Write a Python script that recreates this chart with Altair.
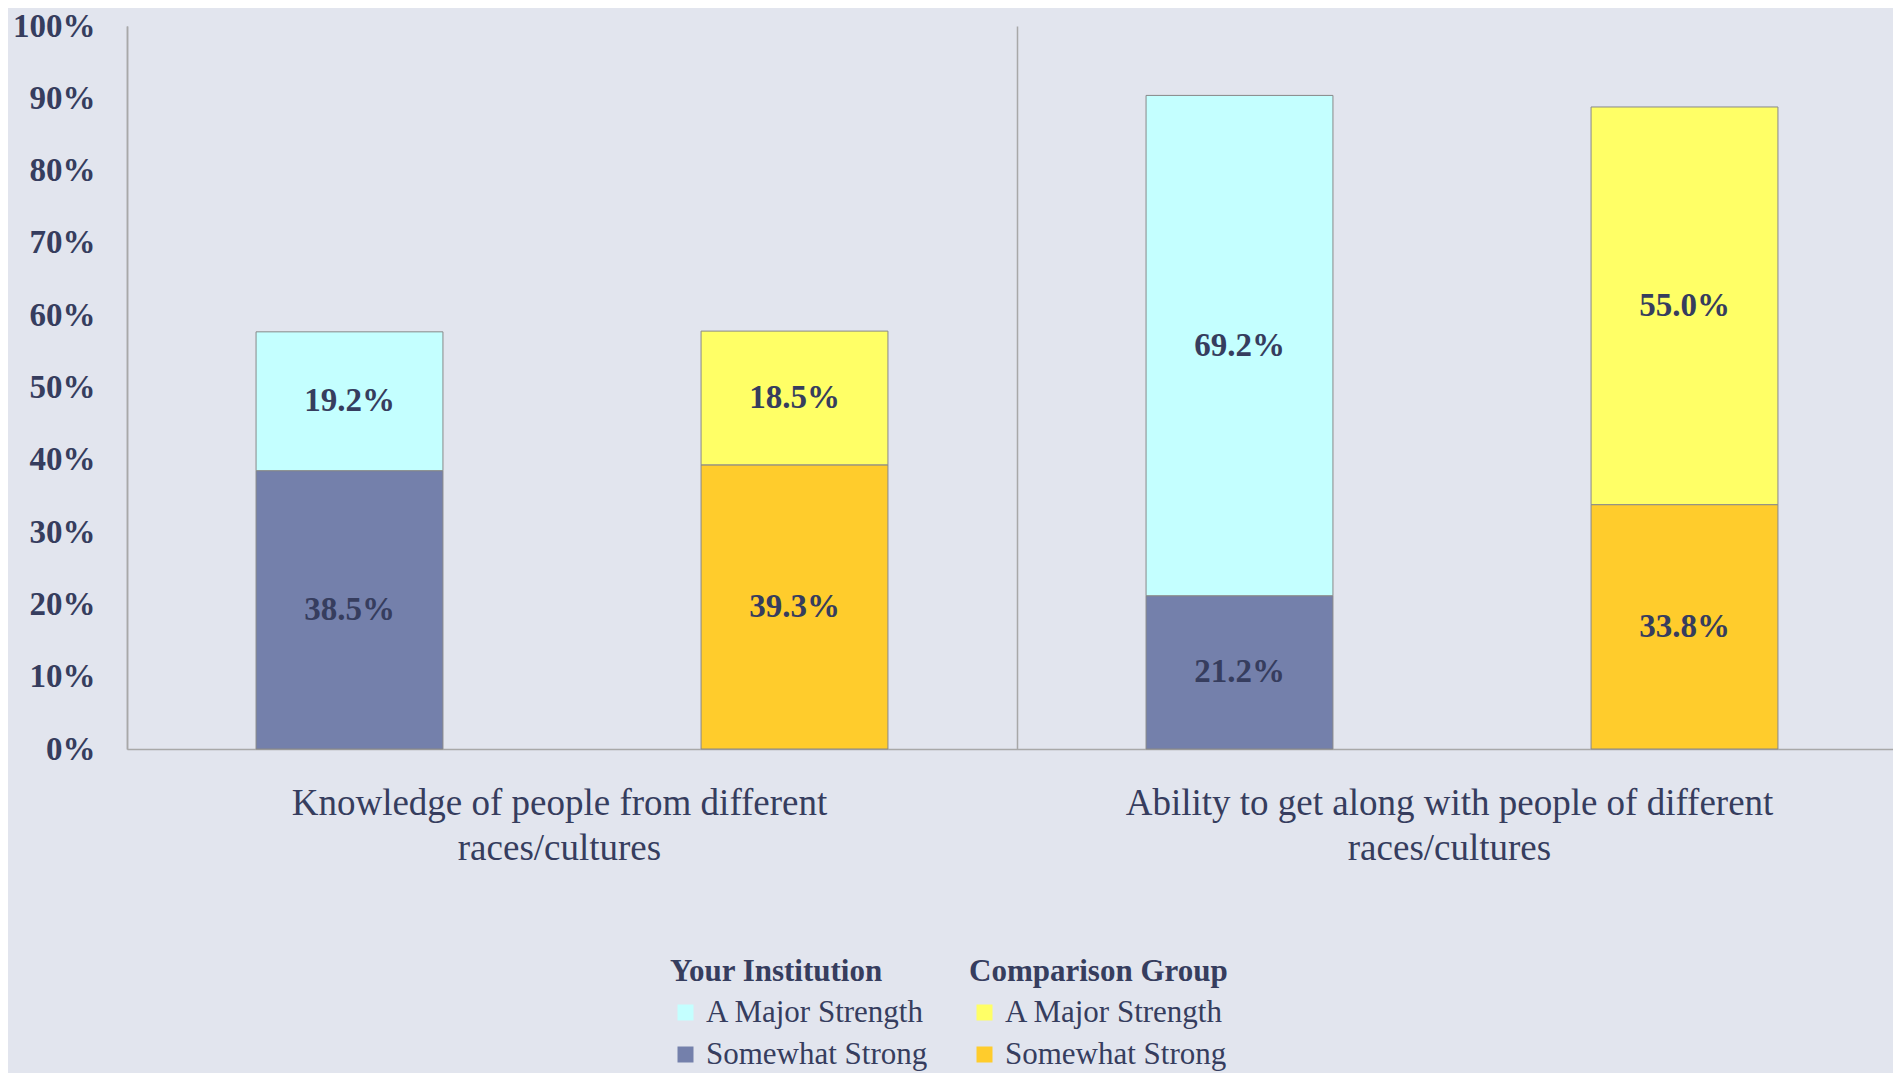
import altair as alt
import pandas as pd

categories = [
    "Knowledge of people from different|races/cultures",
    "Ability to get along with people of different|races/cultures",
]
groups = ["Your Institution", "Comparison Group"]
levels = ["Somewhat Strong", "A Major Strength"]

inst_somewhat = [38.5, 21.2]
inst_major = [19.2, 69.2]
comp_somewhat = [39.3, 33.8]
comp_major = [18.5, 55.0]

rows = []
for i, cat in enumerate(categories):
    rows.append(dict(category=cat, group=groups[0], level=levels[0], order=0, value=inst_somewhat[i]))
    rows.append(dict(category=cat, group=groups[0], level=levels[1], order=1, value=inst_major[i]))
    rows.append(dict(category=cat, group=groups[1], level=levels[0], order=0, value=comp_somewhat[i]))
    rows.append(dict(category=cat, group=groups[1], level=levels[1], order=1, value=comp_major[i]))
df = pd.DataFrame(rows)

FONT = "Liberation Serif"
TEXT = "#363D5E"
BG = "#E2E5EE"
GRID = "#A8A8A8"

base = alt.Chart(df).transform_stack(
    stack="value", groupby=["category", "group"], sort=[alt.SortField("order")], as_=["v0", "v1"]
).transform_calculate(
    mid="(datum.v0 + datum.v1) / 2",
    lab="format(datum.value, '.1f') + '%'",
)

x_enc = alt.X(
    "category:N",
    sort=categories,
    scale=alt.Scale(paddingInner=0, paddingOuter=0, range=[0, 1780]),
    axis=alt.Axis(
        title=None, labelAngle=0, ticks=False, tickBand="extent", grid=True,
        gridColor=GRID, gridWidth=1.5, domainColor=GRID, domainWidth=1.5,
        labelExpr="split(datum.label, '|')", labelFont=FONT, labelFontSize=37,
        labelFontWeight="normal", labelColor=TEXT, labelLineHeight=45,
        labelPadding=36, labelOffset=-13, labelLimit=0,
    ),
)
xo_enc = alt.XOffset(
    "group:N", sort=groups,
    scale=alt.Scale(domain=groups, paddingInner=0.58, paddingOuter=0.29),
)
y_enc = alt.Y(
    "v0:Q",
    scale=alt.Scale(domain=[0, 100]),
    axis=alt.Axis(
        title=None, values=list(range(0, 101, 10)), labelExpr="datum.value + '%'",
        ticks=False, grid=False, domainColor=GRID, domainWidth=1.5,
        labelFont=FONT, labelFontSize=33, labelFontWeight="bold", labelColor=TEXT,
        labelPadding=32,
    ),
)

leg_common = dict(
    orient="none", direction="vertical", symbolType="square", symbolSize=256,
    symbolStrokeWidth=0, titleFont=FONT, titleFontSize=31, titleFontWeight="bold",
    titleColor=TEXT, labelFont=FONT, labelFontSize=31, labelColor=TEXT,
    rowPadding=10, titlePadding=9, labelOffset=5, labelLimit=0, titleLimit=0,
)

inst = base.transform_filter(alt.datum.group == groups[0]).mark_bar(
    stroke="#888888", strokeWidth=1
).encode(
    x=x_enc, xOffset=xo_enc, y=y_enc, y2="v1:Q",
    color=alt.Color(
        "level:N",
        scale=alt.Scale(domain=["A Major Strength", "Somewhat Strong"], range=["#C4FFFF", "#7480AB"]),
        legend=alt.Legend(title="Your Institution", legendX=543, legendY=931, **leg_common),
    ),
)

comp = base.transform_filter(alt.datum.group == groups[1]).mark_bar(
    stroke="#888888", strokeWidth=1
).encode(
    x=x_enc, xOffset=xo_enc, y=y_enc, y2="v1:Q",
    color=alt.Color(
        "level:N",
        scale=alt.Scale(domain=["A Major Strength", "Somewhat Strong"], range=["#FFFF66", "#FFCC2C"]),
        legend=alt.Legend(title="Comparison Group", legendX=842, legendY=931, **leg_common),
    ),
)

labels = base.mark_text(
    font=FONT, fontSize=33, fontWeight="bold", color=TEXT, baseline="middle", align="center"
).encode(
    x=x_enc, xOffset=xo_enc, y=alt.Y("mid:Q"), text="lab:N",
)

chart = alt.layer(inst, comp, labels).resolve_scale(color="independent").properties(
    width=1766, height=723, background=BG,
    autosize=alt.AutoSizeParams(type="none"),
    padding={"left": 119, "top": 18, "right": 0, "bottom": 324},
).configure_view(strokeWidth=0)

chart.save("out.html", embed_options={"renderer": "svg", "actions": False})
